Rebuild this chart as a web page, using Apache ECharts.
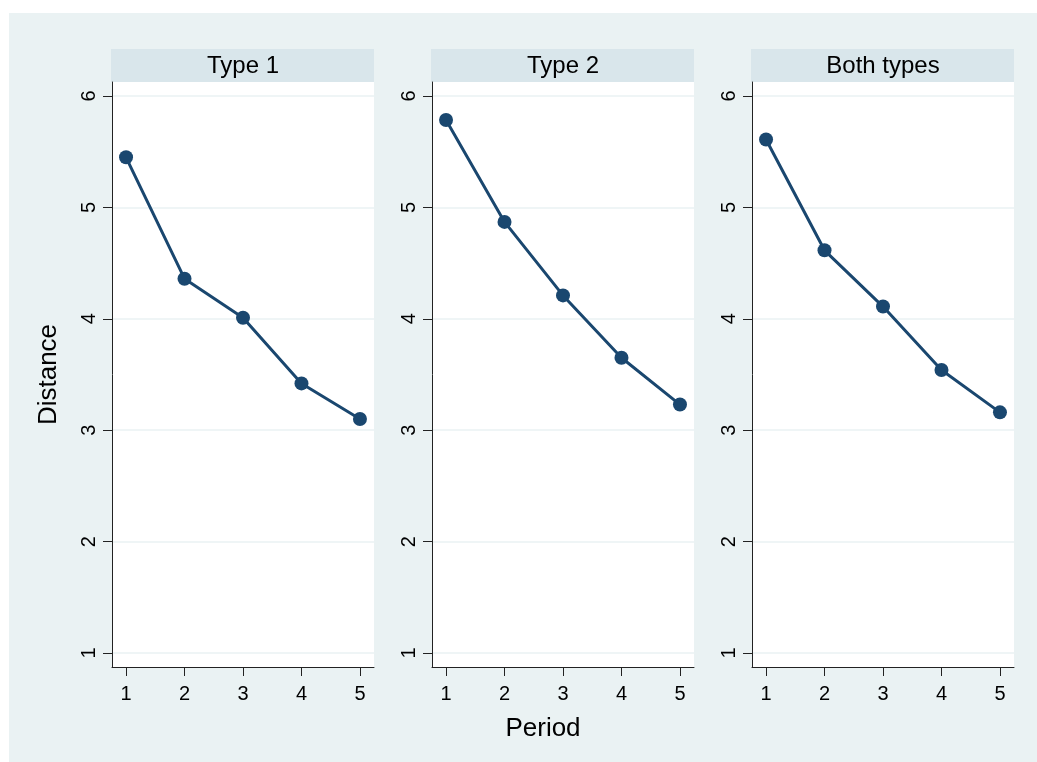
<!DOCTYPE html>
<html>
<head>
<meta charset="utf-8">
<style>
  html, body { margin: 0; padding: 0; background: #ffffff; width: 1037px; height: 762px; overflow: hidden; }
  #chart { position: absolute; left: 9px; top: 13px; width: 1028px; height: 749px; }
</style>
<script src="https://cdn.jsdelivr.net/npm/echarts@6/dist/echarts.min.js"></script>
</head>
<body>
<div id="chart"></div>
<script>
// ---- data ----
const periods = [1, 2, 3, 4, 5];
const type1 = [5.45, 4.36, 4.01, 3.42, 3.10];
const type2 = [5.785, 4.87, 4.21, 3.65, 3.23];
const bothTypes = [5.61, 4.615, 4.11, 3.54, 3.16];
const panelTitles = ['Type 1', 'Type 2', 'Both types'];
const yTicks = [1, 2, 3, 4, 5, 6];
const xTicks = [1, 2, 3, 4, 5];
const xTitle = 'Period';
const yTitle = 'Distance';

// ---- layout / style ----
const FONT = 'Liberation Sans, Arial, Helvetica, sans-serif';
const NAVY = '#1A476F';
const gridLefts = [103, 423, 743];
const gridTop = 69, gridW = 262, gridH = 585;
const panelData = [type1, type2, bothTypes];

const chart = echarts.init(document.getElementById('chart'));

const grids = [], xAxes = [], yAxes = [], series = [], graphics = [];
panelData.forEach((vals, i) => {
  grids.push({
    left: gridLefts[i], top: gridTop, width: gridW, height: gridH,
    show: true, backgroundColor: '#ffffff', borderWidth: 0, containLabel: false
  });
  xAxes.push({
    type: 'value', gridIndex: i, min: 0.76, max: 5.24,
    axisLine: { show: true, onZero: false, lineStyle: { color: '#222', width: 1 } },
    axisTick: { show: true, length: 9, customValues: xTicks, lineStyle: { color: '#222', width: 1 } },
    axisLabel: { show: true, customValues: xTicks, margin: 17, fontSize: 20, color: '#000', fontFamily: FONT },
    splitLine: { show: false }
  });
  yAxes.push({
    type: 'value', gridIndex: i, min: 0.874, max: 6.126,
    name: i === 0 ? yTitle : '',
    nameLocation: 'middle', nameRotate: 90, nameGap: 50,
    nameTextStyle: { fontSize: 26, color: '#000', fontFamily: FONT },
    axisLine: { show: true, onZero: false, lineStyle: { color: '#222', width: 1 } },
    axisTick: { show: true, length: 9, customValues: yTicks, lineStyle: { color: '#222', width: 1 } },
    axisLabel: { show: true, customValues: yTicks, rotate: 90, margin: 13, fontSize: 20, color: '#000', fontFamily: FONT },
    splitLine: { show: true, customValues: yTicks, lineStyle: { color: '#EAF2F3', width: 1.5 } }
  });
  series.push({
    type: 'line', xAxisIndex: i, yAxisIndex: i,
    data: periods.map((p, k) => [p, vals[k]]),
    symbol: 'circle', symbolSize: 14,
    itemStyle: { color: NAVY },
    lineStyle: { color: NAVY, width: 3 },
    silent: true, animation: false
  });
  graphics.push({
    type: 'rect', shape: { x: gridLefts[i] - 1, y: 36, width: gridW + 1, height: 33 },
    style: { fill: '#D9E6EB' }
  });
  graphics.push({
    type: 'text', x: gridLefts[i] + gridW / 2, y: 53,
    style: { text: panelTitles[i], fill: '#000', font: '24px ' + FONT, textAlign: 'center', textVerticalAlign: 'middle' }
  });
});
graphics.push({
  type: 'text', x: 534, y: 716,
  style: { text: xTitle, fill: '#000', font: '26px ' + FONT, textAlign: 'center', textVerticalAlign: 'middle' }
});

chart.setOption({
  backgroundColor: '#EAF2F3',
  animation: false,
  textStyle: { fontFamily: FONT },
  grid: grids,
  xAxis: xAxes,
  yAxis: yAxes,
  series: series,
  graphic: graphics
});
</script>
</body>
</html>
